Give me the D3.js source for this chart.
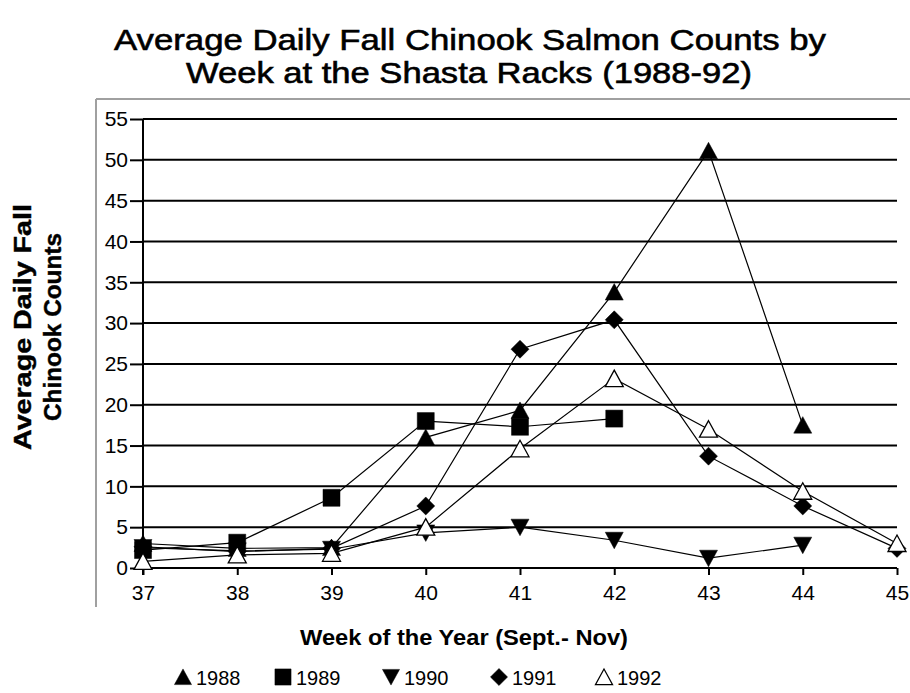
<!DOCTYPE html>
<html>
<head>
<meta charset="utf-8">
<script src="https://cdn.jsdelivr.net/npm/d3@7"></script>
<style>
  html, body { margin: 0; padding: 0; background: #fff; }
  svg { display: block; font-family: "Liberation Sans", Arial, sans-serif; }
</style>
</head>
<body>
<svg id="chart" width="910" height="693"></svg>
<script>
// Weeks of the year on the x axis
const weeks = [37, 38, 39, 40, 41, 42, 43, 44, 45];
const yTicks = [0, 5, 10, 15, 20, 25, 30, 35, 40, 45, 50, 55];

// Average daily counts per week (null = no count that week)
const counts1988 = [3.0, 2.4, 2.5, 16.0, 19.3, 33.8, 51.1, 17.5, null];
const counts1989 = [2.2, 3.1, 8.6, 18.0, 17.3, 18.3, null, null, null];
const counts1990 = [2.5, 2.1, 2.3, 4.3, 5.0, 3.4, 1.2, 2.8, null];
const counts1991 = [2.6, 2.0, 2.4, 7.6, 26.8, 30.4, 13.7, 7.6, 2.4];
const counts1992 = [0.8, 1.6, 1.8, 5.0, 14.6, 23.2, 17.0, 9.4, 3.0];

const seriesNames = ["1988", "1989", "1990", "1991", "1992"];
const seriesValues = [counts1988, counts1989, counts1990, counts1991, counts1992];

// Marker glyphs
const markerPaths = {
  triUp:   "M0,-8.5L9,8L-9,8Z",
  square:  "M-8.5,-8.5H8.5V8.5H-8.5Z",
  triDown: "M0,8.5L9,-8L-9,-8Z",
  diamond: "M0,-9L9,0L0,9L-9,0Z",
  triOpen: "M0,-8.5L9,8L-9,8Z"
};
const seriesMarkers = ["triUp", "square", "triDown", "diamond", "triOpen"];

const svg = d3.select("#chart");

const x = d3.scaleLinear().domain([37, 45]).range([143, 897]);
const y = d3.scaleLinear().domain([0, 55]).range([568, 119]);

// Chart area frame (left and top edges)
svg.append("line").attr("x1", 96).attr("x2", 96).attr("y1", 99).attr("y2", 607)
  .attr("stroke", "#a0a0a0").attr("stroke-width", 2);
svg.append("line").attr("x1", 96).attr("x2", 910).attr("y1", 99).attr("y2", 99)
  .attr("stroke", "#a0a0a0").attr("stroke-width", 2);

// Title
const title = svg.append("text").attr("text-anchor", "middle")
  .attr("font-size", 30).attr("fill", "#000")
  .attr("stroke", "#000").attr("stroke-width", 0.6);
title.append("tspan").attr("x", 470).attr("y", 50)
  .attr("textLength", 712).attr("lengthAdjust", "spacingAndGlyphs")
  .text("Average Daily Fall Chinook Salmon Counts by");
title.append("tspan").attr("x", 469).attr("y", 83)
  .attr("textLength", 566).attr("lengthAdjust", "spacingAndGlyphs")
  .text("Week at the Shasta Racks (1988-92)");

// Y axis with gridlines
const yAxis = d3.axisLeft(y).tickValues(yTicks).tickSize(13).tickPadding(2).tickSizeOuter(0);
const gy = svg.append("g").attr("transform", "translate(143,0)").call(yAxis);
gy.select(".domain").remove();
gy.selectAll(".tick line").attr("stroke", "#000").attr("stroke-width", 2);
gy.selectAll(".tick text").attr("font-size", 21).attr("fill", "#000")
  .attr("font-family", "Liberation Sans, Arial, sans-serif");
svg.append("g").selectAll("line").data(yTicks).join("line")
  .attr("x1", 143).attr("x2", 897)
  .attr("y1", d => y(d)).attr("y2", d => y(d))
  .attr("stroke", "#000").attr("stroke-width", 2);
svg.append("line").attr("x1", 143).attr("x2", 143).attr("y1", y(55)).attr("y2", 575)
  .attr("stroke", "#000").attr("stroke-width", 2);

// X axis ticks and labels
const xAxis = d3.axisBottom(x).tickValues(weeks).tickSize(7).tickPadding(10).tickSizeOuter(0)
  .tickFormat(d3.format("d"));
const gx = svg.append("g").attr("transform", `translate(0,${y(0)})`).call(xAxis);
gx.select(".domain").remove();
gx.selectAll(".tick line").attr("stroke", "#000").attr("stroke-width", 2);
gx.selectAll(".tick text").attr("font-size", 21).attr("fill", "#000")
  .attr("font-family", "Liberation Sans, Arial, sans-serif");

// Axis titles
svg.append("text").attr("x", 464).attr("y", 645).attr("text-anchor", "middle")
  .attr("font-size", 22).attr("font-weight", "bold")
  .attr("textLength", 328).attr("lengthAdjust", "spacingAndGlyphs")
  .text("Week of the Year (Sept.- Nov)");
const yTitle = svg.append("text").attr("text-anchor", "middle")
  .attr("font-size", 23).attr("font-weight", "bold")
  .attr("stroke", "#000").attr("stroke-width", 0.4)
  .attr("transform", "translate(0,327) rotate(-90)");
yTitle.append("tspan").attr("x", 0).attr("y", 31).attr("font-weight", "bold")
  .attr("textLength", 246).attr("lengthAdjust", "spacingAndGlyphs")
  .text("Average Daily Fall");
yTitle.append("tspan").attr("x", 0).attr("y", 61).attr("font-weight", "bold")
  .attr("textLength", 188).attr("lengthAdjust", "spacingAndGlyphs")
  .text("Chinook Counts");

// Series lines
const line = d3.line()
  .defined(d => d.v !== null)
  .x(d => x(d.w)).y(d => y(d.v));
const seriesData = seriesValues.map((vals, i) => ({
  name: seriesNames[i],
  marker: seriesMarkers[i],
  points: vals.map((v, j) => ({ w: weeks[j], v }))
}));
svg.append("g").selectAll("path").data(seriesData).join("path")
  .attr("d", s => line(s.points))
  .attr("fill", "none").attr("stroke", "#000").attr("stroke-width", 1.2);

// Series markers
seriesData.forEach(s => {
  svg.append("g").selectAll("path")
    .data(s.points.filter(p => p.v !== null)).join("path")
    .attr("transform", p => `translate(${x(p.w)},${y(p.v)})`)
    .attr("d", markerPaths[s.marker])
    .attr("fill", s.marker === "triOpen" ? "#fff" : "#000")
    .attr("stroke", "#000").attr("stroke-width", s.marker === "triOpen" ? 1.3 : 0.5);
});

// Legend
const legendX = [183, 283, 391, 499, 604];
const legend = svg.append("g").selectAll("g").data(seriesData).join("g")
  .attr("transform", (s, i) => `translate(${legendX[i]},677)`);
legend.append("path")
  .attr("d", s => markerPaths[s.marker])
  .attr("transform", "scale(0.95)")
  .attr("fill", s => s.marker === "triOpen" ? "#fff" : "#000")
  .attr("stroke", "#000").attr("stroke-width", s => s.marker === "triOpen" ? 1.3 : 0.5);
legend.append("text").attr("x", 13).attr("y", 8).attr("font-size", 20).text(s => s.name);
</script>
</body>
</html>
